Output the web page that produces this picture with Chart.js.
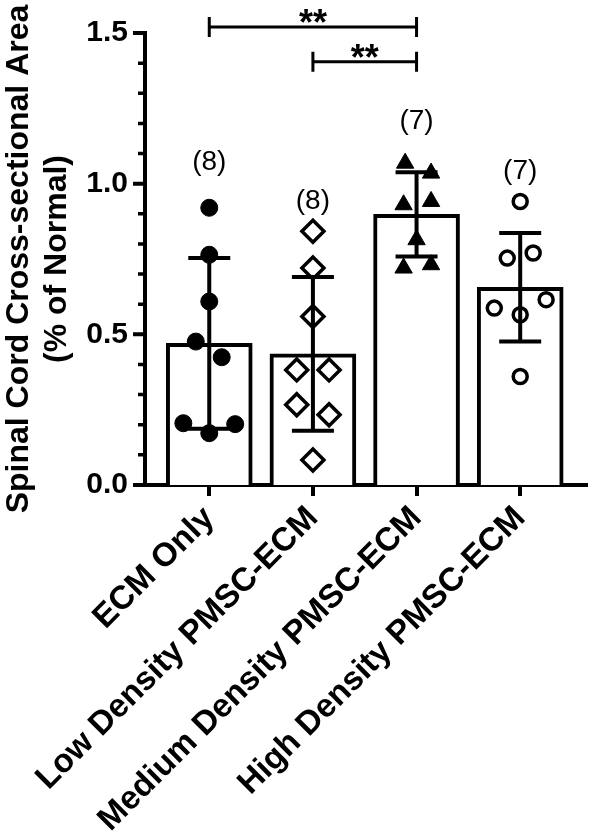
<!DOCTYPE html>
<html><head><meta charset="utf-8">
<script src="https://cdn.jsdelivr.net/npm/chart.js@4.4.1/dist/chart.umd.min.js"></script>
<style>html,body{margin:0;padding:0;background:#fff}canvas{display:block}</style>
</head><body>
<canvas id="c" width="600" height="836"></canvas>
<script>
// ---- data ----
const categories = ['ECM Only', 'Low Density PMSC-ECM', 'Medium Density PMSC-ECM', 'High Density PMSC-ECM'];
const groupSizes = ['(8)', '(8)', '(7)', '(7)'];
const means = [0.47, 0.435, 0.898, 0.656];
const sds = [0.283, 0.255, 0.14, 0.18];

const ecmOnly = [0.92, 0.764, 0.609, 0.476, 0.424, 0.205, 0.172, 0.202];
const ecmJitter = [0, 0, 0, -0.13, 0.12, -0.25, 0, 0.25];
const lowDensity = [0.842, 0.72, 0.559, 0.382, 0.382, 0.266, 0.233, 0.083];
const lowJitter = [0, 0, 0, -0.156, 0.156, -0.156, 0.156, 0];
const mediumDensity = [1.068, 1.035, 0.93, 0.941, 0.814, 0.72, 0.731];
const mediumJitter = [-0.11, 0.14, -0.125, 0.14, 0, -0.125, 0.14];
const highDensity = [0.941, 0.753, 0.77, 0.587, 0.615, 0.565, 0.36];
const highJitter = [0, -0.125, 0.125, -0.25, 0.25, 0, 0];

const yMajorTicks = [0, 0.5, 1.0, 1.5];
const yMinorTicks = [0.1, 0.2, 0.3, 0.4, 0.6, 0.7, 0.8, 0.9, 1.1, 1.2, 1.3, 1.4];
const comparisons = [{from: 0, to: 2, label: '**'}, {from: 1, to: 2, label: '**'}];

// ---- helpers ----
const FONT = '"Liberation Sans", Arial, sans-serif';
const toPoints = (vals, jit, i) => vals.map((v, k) => ({x: i + jit[k], y: v}));

const extrasPlugin = {
  id: 'extras',
  afterDatasetDraw(chart, args, opts) {
    if (args.index !== 0) return;
    const {ctx, scales: {x, y}} = chart;
    ctx.save();
    ctx.strokeStyle = '#000';
    ctx.lineWidth = 4;
    ctx.lineCap = 'butt';
    means.forEach((m, i) => {
      const px = x.getPixelForValue(i);
      const top = y.getPixelForValue(m + sds[i]);
      const bot = y.getPixelForValue(m - sds[i]);
      ctx.beginPath();
      ctx.moveTo(px, top); ctx.lineTo(px, bot);
      ctx.moveTo(px - opts.capHalf, top); ctx.lineTo(px + opts.capHalf, top);
      ctx.moveTo(px - opts.capHalf, bot); ctx.lineTo(px + opts.capHalf, bot);
      ctx.stroke();
    });
    ctx.restore();
  },
  afterDraw(chart, args, opts) {
    const {ctx, scales: {x, y}, chartArea} = chart;
    ctx.save();
    ctx.strokeStyle = '#000';
    ctx.fillStyle = '#000';
    // y tick marks
    const left = chartArea.left;
    ctx.lineWidth = 4;
    ctx.beginPath();
    yMajorTicks.forEach(v => { const py = y.getPixelForValue(v); ctx.moveTo(left - 12, py); ctx.lineTo(left, py); });
    ctx.stroke();
    ctx.lineWidth = 3.5;
    ctx.beginPath();
    yMinorTicks.forEach(v => { const py = y.getPixelForValue(v); ctx.moveTo(left - 7, py); ctx.lineTo(left, py); });
    ctx.stroke();
    // group size labels
    ctx.font = '28px ' + FONT;
    ctx.textAlign = 'center';
    ctx.textBaseline = 'middle';
    groupSizes.forEach((t, i) => {
      ctx.fillText(t, x.getPixelForValue(i), y.getPixelForValue(opts.nLevels[i]));
    });
    // significance brackets
    ctx.lineWidth = 3;
    ctx.font = 'bold 36px ' + FONT;
    ctx.textBaseline = 'alphabetic';
    comparisons.forEach((c, k) => {
      const x1 = x.getPixelForValue(c.from), x2 = x.getPixelForValue(c.to);
      const py = y.getPixelForValue(opts.bracketLevels[k]);
      ctx.beginPath();
      ctx.moveTo(x1, py); ctx.lineTo(x2, py);
      ctx.moveTo(x1, py - 10); ctx.lineTo(x1, py + 10);
      ctx.moveTo(x2, py - 10); ctx.lineTo(x2, py + 10);
      ctx.stroke();
      ctx.fillText(c.label, (x1 + x2) / 2, py + 8);
    });
    ctx.restore();
  }
};

const scatterDs = (vals, jit, i, style) => Object.assign({
  type: 'scatter',
  data: toPoints(vals, jit, i),
  order: 0,
  borderColor: '#000',
  pointBorderColor: '#000'
}, style);

new Chart(document.getElementById('c'), {
  type: 'bar',
  data: {
    datasets: [
      {
        type: 'bar',
        data: means.map((m, i) => ({x: i, y: m})),
        backgroundColor: '#fff',
        borderColor: '#000',
        borderWidth: 4,
        barThickness: 86,
        grouped: false,
        order: 10
      },
      scatterDs(ecmOnly, ecmJitter, 0, {pointStyle: 'circle', pointRadius: 8.5, pointBackgroundColor: '#000', pointBorderWidth: 1}),
      scatterDs(lowDensity, lowJitter, 1, {pointStyle: 'rectRot', pointRadius: 11, pointBackgroundColor: 'rgba(0,0,0,0)', pointBorderWidth: 3.5}),
      scatterDs(mediumDensity, mediumJitter, 2, {pointStyle: 'triangle', pointRadius: 10, pointBackgroundColor: '#000', pointBorderWidth: 1}),
      scatterDs(highDensity, highJitter, 3, {pointStyle: 'circle', pointRadius: 7, pointBackgroundColor: 'rgba(0,0,0,0)', pointBorderWidth: 3.5})
    ]
  },
  options: {
    responsive: false,
    animation: false,
    events: [],
    layout: {padding: {top: 33, right: 3, left: 0, bottom: 0}},
    plugins: {
      legend: {display: false},
      tooltip: {enabled: false},
      extras: {capHalf: 21, nLevels: [1.07, 0.94, 1.206, 1.04], bracketLevels: [1.52, 1.405]}
    },
    scales: {
      x: {
        type: 'linear',
        min: -0.62,
        max: 3.63,
        offset: false,
        afterBuildTicks: s => { s.ticks = categories.map((_, i) => ({value: i})); },
        afterFit: s => { s.height = 351; },
        grid: {display: true, offset: false, drawOnChartArea: false, drawTicks: true, tickLength: 11, tickWidth: 4, tickColor: '#000', lineWidth: 4, color: '#000'},
        border: {display: true, width: 4, color: '#000'},
        ticks: {
          autoSkip: false,
          minRotation: 45,
          maxRotation: 45,
          padding: 3,
          color: '#000',
          font: {family: FONT, size: 33, weight: 'bold'},
          callback: v => categories[v] ?? ''
        }
      },
      y: {
        min: 0,
        max: 1.5,
        afterBuildTicks: s => { s.ticks = yMajorTicks.map(v => ({value: v})); },
        afterFit: s => { s.width = 145; },
        grid: {display: false, drawTicks: true, tickLength: 12},
        border: {display: true, width: 4, color: '#000'},
        ticks: {
          padding: 5,
          color: '#000',
          font: {family: FONT, size: 30, weight: 'bold'},
          callback: v => Number(v).toFixed(1)
        },
        title: {
          display: true,
          text: ['Spinal Cord Cross-sectional Area', '(% of Normal)'],
          color: '#000',
          font: {family: FONT, size: 32, weight: 'bold', lineHeight: 1.2},
          padding: {top: 0, bottom: 0}
        }
      }
    }
  },
  plugins: [extrasPlugin]
});
</script>
</body></html>
